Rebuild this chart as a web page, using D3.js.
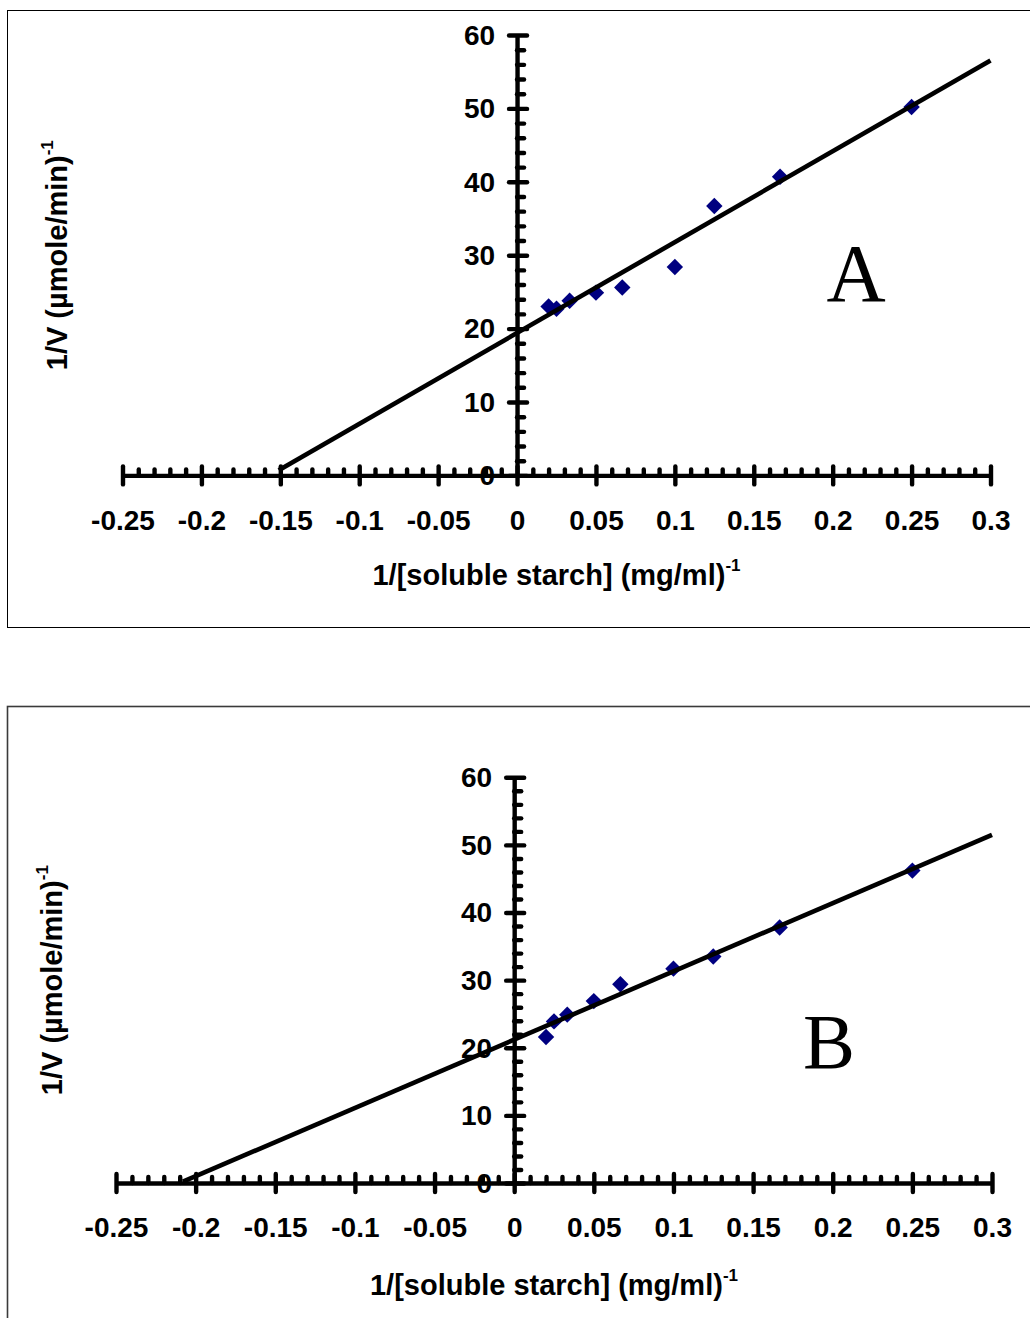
<!DOCTYPE html>
<html>
<head>
<meta charset="utf-8">
<script src="https://cdn.jsdelivr.net/npm/d3@7"></script>
<style>
  html, body { margin: 0; padding: 0; background: #fff; }
  svg { display: block; }
</style>
</head>
<body>
<script>
// Reciprocal substrate concentrations, 1/[soluble starch] (mg/ml)^-1
const invSubstrate = [1/50, 1/40, 1/30, 1/20, 1/15, 1/10, 1/8, 1/6, 1/4];
// Reciprocal velocities, 1/V (µmole/min)^-1
const invVelocityA = [23.0, 22.7, 23.8, 24.9, 25.6, 28.4, 36.7, 40.7, 50.2];
const invVelocityB = [21.6, 23.9, 24.9, 26.9, 29.4, 31.7, 33.5, 37.8, 46.2];
// Linear trendlines: [intercept, slope, first x, last x]
const trendA = [19.4, 123.8, -0.151, 0.3];
const trendB = [21.2, 101.0, -0.208, 0.3];
// Axis ticks
const xTickValues = [-0.25, -0.2, -0.15, -0.1, -0.05, 0, 0.05, 0.1, 0.15, 0.2, 0.25, 0.3];
const xTickLabels = ["-0.25", "-0.2", "-0.15", "-0.1", "-0.05", "0", "0.05", "0.1", "0.15", "0.2", "0.25", "0.3"];
const yTickValues = [0, 10, 20, 30, 40, 50, 60];
const yTickLabels = ["0", "10", "20", "30", "40", "50", "60"];
const panelLetters = ["A", "B"];
const xTitle = "1/[soluble starch] (mg/ml)";
const yTitle = "1/V (\u00B5mole/min)";
const unitExponent = "-1";

const SANS = "'Liberation Sans', Arial, Helvetica, sans-serif";
const SERIF = "'Liberation Serif', 'Times New Roman', Times, serif";

const svg = d3.select("body").append("svg")
  .attr("width", 1030)
  .attr("height", 1318);

// Layout of the two stacked plots
const panels = [
  {
    letter: panelLetters[0], xs: invSubstrate, ys: invVelocityA, trend: trendA,
    frame: [7.5, 10.5, 1030, 617], frameStroke: "#000", frameWidth: 1,
    xRange: [122.5, 990.5], yRange: [475.4, 35],
    yTitleX: 67, letterPos: [856, 301], letterSize: 82,
    tickLabelDy: 55, xTitleDy: 110
  },
  {
    letter: panelLetters[1], xs: invSubstrate, ys: invVelocityB, trend: trendB,
    frame: [7.5, 706.5, 1030, 700], frameStroke: "#3a3a3a", frameWidth: 1.6,
    xRange: [116, 992], yRange: [1183, 777.3],
    yTitleX: 62, letterPos: [829, 1068], letterSize: 78,
    tickLabelDy: 54, xTitleDy: 112
  }
];

function styleAxis(sel) {
  sel.selectAll("line, path")
    .attr("stroke", "#000")
    .attr("stroke-width", 4.4)
    .attr("stroke-linecap", "round");
  sel.selectAll("text")
    .attr("fill", "#000")
    .attr("font-family", SANS)
    .attr("font-weight", "bold")
    .attr("font-size", 28);
}

function drawPanel(p) {
  const x = d3.scaleLinear()
    .domain([xTickValues[0], xTickValues[xTickValues.length - 1]])
    .range(p.xRange);
  const y = d3.scaleLinear()
    .domain([yTickValues[0], yTickValues[yTickValues.length - 1]])
    .range(p.yRange);

  const g = svg.append("g");
  const x0 = x(0), y0 = y(0);

  // Outer border
  g.append("rect")
    .attr("x", p.frame[0]).attr("y", p.frame[1])
    .attr("width", p.frame[2]).attr("height", p.frame[3])
    .attr("fill", "none")
    .attr("stroke", p.frameStroke)
    .attr("stroke-width", p.frameWidth);

  // Data points (navy diamonds)
  const pts = d3.zip(p.xs, p.ys);
  g.append("g").selectAll("path")
    .data(pts)
    .join("path")
    .attr("d", d3.symbol(d3.symbolSquare, 135))
    .attr("transform", d => `translate(${x(d[0])},${y(d[1])}) rotate(45)`)
    .attr("fill", "#000080");

  // Trendline
  const [b0, b1, xa, xb] = p.trend;
  g.append("path")
    .datum([[xa, b0 + b1 * xa], [xb, b0 + b1 * xb]])
    .attr("d", d3.line().x(d => x(d[0])).y(d => y(d[1])))
    .attr("fill", "none")
    .attr("stroke", "#000")
    .attr("stroke-width", 4.6);

  // X minor ticks (every 0.01, pointing up)
  const xMinor = d3.range(-25, 31).filter(i => i % 5 !== 0).map(i => i / 100);
  g.append("g")
    .attr("transform", `translate(0,${y0})`)
    .call(d3.axisTop(x).tickValues(xMinor).tickSize(6).tickFormat(""))
    .call(s => s.select(".domain").remove())
    .call(styleAxis);

  // Y minor ticks (every 2, pointing right)
  const yMinor = d3.range(2, 60, 2).filter(v => v % 10 !== 0);
  g.append("g")
    .attr("transform", `translate(${x0},0)`)
    .call(d3.axisRight(y).tickValues(yMinor).tickSize(7).tickFormat(""))
    .call(s => s.select(".domain").remove())
    .call(styleAxis);

  // X axis with crossing major ticks
  const xAxisG = g.append("g")
    .attr("transform", `translate(0,${y0})`)
    .call(d3.axisBottom(x).tickValues(xTickValues).tickSize(9).tickSizeOuter(0)
      .tickFormat((d, i) => xTickLabels[i]))
    .call(styleAxis);
  xAxisG.selectAll(".tick line").attr("y1", -9).attr("y2", 9);
  xAxisG.select(".domain").attr("stroke-linecap", "butt");
  xAxisG.selectAll(".tick text").attr("y", p.tickLabelDy).attr("dy", 0);

  // Y axis with crossing major ticks
  const yAxisG = g.append("g")
    .attr("transform", `translate(${x0},0)`)
    .call(d3.axisLeft(y).tickValues(yTickValues).tickSize(8).tickSizeOuter(0)
      .tickFormat((d, i) => yTickLabels[i]))
    .call(styleAxis);
  yAxisG.selectAll(".tick line").attr("x1", 10).attr("x2", -8);
  yAxisG.select(".domain").attr("stroke-linecap", "butt");
  yAxisG.selectAll(".tick text").attr("x", -22).attr("dy", "0.33em");

  // X axis title
  const xMid = (p.xRange[0] + p.xRange[1]) / 2;
  const xt = g.append("text")
    .attr("x", xMid)
    .attr("y", y0 + p.xTitleDy)
    .attr("text-anchor", "middle")
    .attr("font-family", SANS)
    .attr("font-weight", "bold")
    .attr("font-size", 29)
    .attr("fill", "#000");
  xt.append("tspan").text(xTitle);
  xt.append("tspan").attr("dy", -14).attr("font-size", 17).text(unitExponent);

  // Y axis title
  const yMid = (p.yRange[0] + p.yRange[1]) / 2;
  const yt = g.append("text")
    .attr("transform", `translate(${p.yTitleX},${yMid}) rotate(-90)`)
    .attr("text-anchor", "middle")
    .attr("font-family", SANS)
    .attr("font-weight", "bold")
    .attr("font-size", 29)
    .attr("fill", "#000");
  yt.append("tspan").text(yTitle);
  yt.append("tspan").attr("dy", -14).attr("font-size", 17).text(unitExponent);

  // Panel letter
  g.append("text")
    .attr("x", p.letterPos[0])
    .attr("y", p.letterPos[1])
    .attr("text-anchor", "middle")
    .attr("font-family", SERIF)
    .attr("font-size", p.letterSize)
    .attr("fill", "#000")
    .text(p.letter);
}

panels.forEach(drawPanel);
</script>
</body>
</html>
